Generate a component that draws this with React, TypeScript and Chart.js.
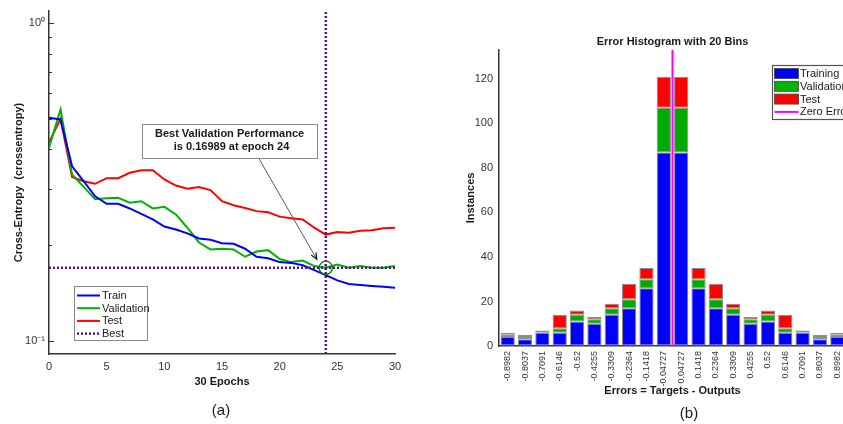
import React, { useEffect, useRef } from 'react';
import { Chart, registerables } from 'chart.js';

Chart.register(...registerables);

// ---------- (a) performance plot data ----------
const epochs = [0, 1, 2, 3, 4, 5, 6, 7, 8, 9, 10, 11, 12, 13, 14, 15, 16, 17, 18, 19, 20, 21, 22, 23, 24, 25, 26, 27, 28, 29, 30];
const trainLoss = [0.503, 0.497, 0.354, 0.318, 0.285, 0.27, 0.27, 0.261, 0.251, 0.241, 0.229, 0.224, 0.218, 0.21, 0.208, 0.203, 0.202, 0.195, 0.184, 0.182, 0.177, 0.176, 0.173, 0.167, 0.161, 0.155, 0.151, 0.15, 0.149, 0.148, 0.147];
const validationLoss = [0.405, 0.534, 0.334, 0.305, 0.279, 0.281, 0.282, 0.272, 0.275, 0.261, 0.264, 0.25, 0.227, 0.204, 0.194, 0.195, 0.194, 0.184, 0.191, 0.193, 0.181, 0.177, 0.179, 0.172, 0.16989, 0.174, 0.17, 0.172, 0.17, 0.17, 0.172];
const testLoss = [0.421, 0.499, 0.328, 0.318, 0.312, 0.325, 0.325, 0.338, 0.344, 0.344, 0.322, 0.308, 0.301, 0.305, 0.298, 0.275, 0.267, 0.262, 0.256, 0.254, 0.246, 0.243, 0.241, 0.227, 0.216, 0.22, 0.219, 0.222, 0.223, 0.226, 0.227];
const bestEpoch = 24;
const bestPerf = 0.16989;
const logTicks = [0.1, 0.2, 0.3, 0.4, 0.5, 0.6, 0.7, 0.8, 0.9, 1];
const epochTicks = [0, 5, 10, 15, 20, 25, 30];
const perfLegend = ['Train', 'Validation', 'Test', 'Best'];

// ---------- (b) error histogram data ----------
const binLabels = ['-0.8982', '-0.8037', '-0.7091', '-0.6146', '-0.52', '-0.4255', '-0.3309', '-0.2364', '-0.1418', '-0.04727', '0.04727', '0.1418', '0.2364', '0.3309', '0.4255', '0.52', '0.6146', '0.7091', '0.8037', '0.8982'];
const trainingCounts = [4, 3, 6, 6, 11, 10, 14, 17, 26, 87, 87, 26, 17, 14, 10, 11, 6, 6, 3, 4];
const validationCounts = [1, 1, 0, 2, 3, 2, 3, 4, 4, 20, 20, 4, 4, 3, 2, 3, 2, 0, 1, 1];
const testCounts = [1, 1, 1, 6, 2, 1, 2, 7, 5, 14, 14, 5, 7, 2, 1, 2, 6, 1, 1, 1];
const countTicks = [0, 20, 40, 60, 80, 100, 120];
const histLegend = ['Training', 'Validation', 'Test', 'Zero Error'];

const FONT = "'Liberation Sans', Arial, Helvetica, sans-serif";
const AXIS = '#333333';
const BLUE = '#0000ff';
const GREEN = '#00b300';
const RED = '#ff0000';
const PURPLE = '#4e1779';
const MAGENTA = '#ff00ff';

const perfDecor = {
  id: 'perfDecor',
  afterDatasetsDraw(chart: any) {
    const { ctx, chartArea: ca, scales } = chart;
    const x = scales.x;
    const y = scales.y;
    ctx.save();
    // inward y ticks
    ctx.strokeStyle = AXIS;
    ctx.lineWidth = 1;
    logTicks.forEach((v) => {
      const py = Math.round(y.getPixelForValue(v)) + 0.5;
      const len = v === 1 || v === 0.1 ? 5 : 3;
      ctx.beginPath();
      ctx.moveTo(ca.left, py);
      ctx.lineTo(ca.left + len, py);
      ctx.stroke();
    });
    // best circle
    const cx = x.getPixelForValue(bestEpoch);
    const cy = y.getPixelForValue(bestPerf);
    ctx.strokeStyle = '#0a7a0a';
    ctx.lineWidth = 1.3;
    ctx.beginPath();
    ctx.arc(cx, cy, 6.6, 0, Math.PI * 2);
    ctx.stroke();

    // annotation box
    const bx0 = x.getPixelForValue(8.07);
    const bx1 = x.getPixelForValue(23.24);
    const by0 = y.getPixelForValue(0.482);
    const by1 = y.getPixelForValue(0.377);
    // arrow
    const sx = bx0 + (bx1 - bx0) * 0.665;
    const sy = by1;
    const tx = cx - 9;
    const ty = cy - 8.5;
    ctx.strokeStyle = '#444';
    ctx.lineWidth = 0.9;
    ctx.beginPath();
    ctx.moveTo(sx, sy);
    ctx.lineTo(tx, ty);
    ctx.stroke();
    const ang = Math.atan2(ty - sy, tx - sx);
    ctx.strokeStyle = '#111';
    ctx.lineWidth = 1.2;
    ctx.beginPath();
    ctx.moveTo(tx - 7 * Math.cos(ang - 0.4), ty - 7 * Math.sin(ang - 0.4));
    ctx.lineTo(tx, ty);
    ctx.lineTo(tx - 7 * Math.cos(ang + 0.4), ty - 7 * Math.sin(ang + 0.4));
    ctx.stroke();

    ctx.fillStyle = '#ffffff';
    ctx.fillRect(bx0, by0, bx1 - bx0, by1 - by0);
    ctx.strokeStyle = '#8a8a8a';
    ctx.lineWidth = 1;
    ctx.strokeRect(Math.round(bx0) + 0.5, Math.round(by0) + 0.5, Math.round(bx1 - bx0), Math.round(by1 - by0));
    ctx.fillStyle = '#1a1a1a';
    ctx.font = `bold 11px ${FONT}`;
    ctx.textAlign = 'center';
    ctx.textBaseline = 'middle';
    const mx = (bx0 + bx1) / 2;
    ctx.fillText('Best Validation Performance', mx, by0 + 10.5);
    ctx.fillText('is 0.16989 at epoch 24', mx + 2, by0 + 23.5);

    // legend
    const lx = ca.left + 25;
    const ly = ca.top + 275;
    const lw = 73;
    const lh = 54;
    ctx.fillStyle = '#ffffff';
    ctx.fillRect(lx, ly, lw, lh);
    ctx.strokeStyle = '#8a8a8a';
    ctx.lineWidth = 1;
    ctx.strokeRect(lx + 0.5, ly + 0.5, lw, lh);
    const colors = [BLUE, GREEN, RED, PURPLE];
    ctx.font = `11px ${FONT}`;
    ctx.textAlign = 'left';
    perfLegend.forEach((name, i) => {
      const ry = ly + 9.5 + i * 12.7;
      ctx.strokeStyle = colors[i];
      ctx.lineWidth = i === 3 ? 2.5 : 2;
      ctx.setLineDash(i === 3 ? [2, 2] : []);
      ctx.beginPath();
      ctx.moveTo(lx + 3, ry);
      ctx.lineTo(lx + 26, ry);
      ctx.stroke();
      ctx.setLineDash([]);
      ctx.fillStyle = '#1a1a1a';
      ctx.fillText(name, lx + 28, ry + 0.5);
    });
    ctx.restore();
  },
};

const histDecor = {
  id: 'histDecor',
  afterDatasetsDraw(chart: any) {
    const { ctx, chartArea: ca, scales } = chart;
    const x = scales.x;
    ctx.save();
    // zero error line
    const zx = (x.getPixelForValue(9) + x.getPixelForValue(10)) / 2;
    ctx.strokeStyle = MAGENTA;
    ctx.lineWidth = 2;
    ctx.beginPath();
    ctx.moveTo(zx, ca.top);
    ctx.lineTo(zx, ca.bottom);
    ctx.stroke();
    // title
    ctx.fillStyle = '#1a1a1a';
    ctx.font = `bold 11px ${FONT}`;
    ctx.textAlign = 'center';
    ctx.textBaseline = 'middle';
    ctx.fillText('Error Histogram with 20 Bins', zx, ca.top - 8);
    // legend
    const lx = ca.left + 273;
    const ly = ca.top + 15;
    const lw = 86;
    const lh = 54;
    ctx.fillStyle = '#ffffff';
    ctx.fillRect(lx, ly, lw, lh);
    ctx.strokeStyle = '#555';
    ctx.lineWidth = 1.2;
    ctx.strokeRect(lx + 0.5, ly + 0.5, lw, lh);
    const colors = [BLUE, GREEN, RED, MAGENTA];
    ctx.font = `11px ${FONT}`;
    ctx.textAlign = 'left';
    histLegend.forEach((name, i) => {
      const ry = ly + 8.5 + i * 12.8;
      if (i < 3) {
        ctx.fillStyle = colors[i];
        ctx.fillRect(lx + 2.5, ry - 5, 24, 10);
        ctx.strokeStyle = '#444';
        ctx.lineWidth = 0.8;
        ctx.strokeRect(lx + 2.5, ry - 5, 24, 10);
      } else {
        ctx.strokeStyle = colors[i];
        ctx.lineWidth = 2;
        ctx.beginPath();
        ctx.moveTo(lx + 2.5, ry);
        ctx.lineTo(lx + 26.5, ry);
        ctx.stroke();
      }
      ctx.fillStyle = '#1a1a1a';
      ctx.fillText(name, lx + 28, ry + 0.5);
    });
    ctx.restore();
  },
};

function PerfChart() {
  const ref = useRef<HTMLCanvasElement>(null);
  useEffect(() => {
    if (!ref.current) return;
    const pts = (vals: number[]) => vals.map((v, i) => ({ x: epochs[i], y: v }));
    const chart = new Chart(ref.current, {
      type: 'line',
      data: {
        datasets: [
          { label: 'Best', data: [{ x: epochs[0], y: bestPerf }, { x: epochs[epochs.length - 1], y: bestPerf }], borderColor: PURPLE, borderWidth: 2.5, borderDash: [2, 2], pointRadius: 0 },
          { label: 'BestEpoch', data: [{ x: bestEpoch, y: 0.091 }, { x: bestEpoch, y: 1.09 }], borderColor: PURPLE, borderWidth: 2.5, borderDash: [2, 2], pointRadius: 0 },
          { label: 'Train', data: pts(trainLoss), borderColor: BLUE, borderWidth: 2, pointRadius: 0 },
          { label: 'Validation', data: pts(validationLoss), borderColor: GREEN, borderWidth: 2, pointRadius: 0 },
          { label: 'Test', data: pts(testLoss), borderColor: RED, borderWidth: 2, pointRadius: 0 },
        ],
      },
      options: {
        animation: false,
        responsive: false,
        devicePixelRatio: 1,
        layout: { padding: { left: 12, top: 11, right: 25, bottom: 35 } },
        plugins: { legend: { display: false }, tooltip: { enabled: false }, title: { display: false } },
        scales: {
          x: {
            type: 'linear',
            min: 0,
            max: 30,
            afterBuildTicks: (s: any) => { s.ticks = epochTicks.map((v) => ({ value: v })); },
            afterFit: (s: any) => { s.height = 35; },
            ticks: { font: { family: FONT, size: 11 }, color: AXIS, padding: 6, maxRotation: 0 },
            grid: { display: true, drawOnChartArea: false, drawTicks: false },
            border: { display: true, color: AXIS, width: 1.5 },
            title: { display: true, text: '30 Epochs', font: { family: FONT, size: 11, weight: 'bold' }, color: '#1a1a1a', padding: 0 },
          },
          y: {
            type: 'logarithmic',
            min: 0.091,
            max: 1.09,
            afterBuildTicks: (s: any) => { s.ticks = logTicks.map((v) => ({ value: v })); },
            afterFit: (s: any) => { s.width = 37; },
            ticks: {
              font: { family: FONT, size: 11 },
              color: AXIS,
              padding: 4,
              callback: (v: any) => (v === 1 ? '10\u2070' : v === 0.1 ? '10\u207B\u00B9' : ''),
            },
            grid: { display: true, drawOnChartArea: false, drawTicks: false },
            border: { display: true, color: AXIS, width: 1.5 },
            title: { display: true, text: 'Cross-Entropy  (crossentropy)', font: { family: FONT, size: 11, weight: 'bold' }, color: '#1a1a1a', padding: 0 },
          },
        },
      },
      plugins: [perfDecor],
    } as any);
    return () => chart.destroy();
  }, []);
  return <canvas ref={ref} width={420} height={424} style={{ position: 'absolute', left: 0, top: 0, width: 420, height: 424 }} />;
}

function HistChart() {
  const ref = useRef<HTMLCanvasElement>(null);
  useEffect(() => {
    if (!ref.current) return;
    const common = {
      borderColor: '#8c8c8c',
      borderWidth: (c: any) => (c.raw === 0 ? 0 : 1),
      borderSkipped: false,
      barPercentage: 0.82,
      categoryPercentage: 1,
    };
    const chart = new Chart(ref.current, {
      type: 'bar',
      data: {
        labels: binLabels,
        datasets: [
          { label: 'Training', data: trainingCounts, backgroundColor: BLUE, ...common },
          { label: 'Validation', data: validationCounts, backgroundColor: '#00aa00', ...common },
          { label: 'Test', data: testCounts, backgroundColor: RED, ...common },
        ],
      },
      options: {
        animation: false,
        responsive: false,
        devicePixelRatio: 1,
        layout: { padding: { left: 4, top: 50, right: 36, bottom: 26 } },
        plugins: { legend: { display: false }, tooltip: { enabled: false }, title: { display: false } },
        scales: {
          x: {
            stacked: true,
            afterFit: (s: any) => { s.height = 52; },
            ticks: { font: { family: FONT, size: 9 }, color: AXIS, padding: 5, autoSkip: false, minRotation: 90, maxRotation: 90 },
            grid: { display: true, drawOnChartArea: false, drawTicks: false },
            border: { display: true, color: AXIS, width: 1.5 },
            title: { display: true, text: 'Errors = Targets - Outputs', font: { family: FONT, size: 11, weight: 'bold' }, color: '#1a1a1a', padding: 0 },
          },
          y: {
            stacked: true,
            min: 0,
            max: 133,
            afterBuildTicks: (s: any) => { s.ticks = countTicks.map((v) => ({ value: v })); },
            afterFit: (s: any) => { s.width = 35; },
            ticks: { font: { family: FONT, size: 11 }, color: AXIS, padding: 6 },
            grid: { display: true, drawOnChartArea: false, drawTicks: false },
            border: { display: true, color: AXIS, width: 1.5 },
            title: { display: true, text: 'Instances', font: { family: FONT, size: 11, weight: 'bold' }, color: '#1a1a1a', padding: 0 },
          },
        },
      },
      plugins: [histDecor],
    } as any);
    return () => chart.destroy();
  }, []);
  return <canvas ref={ref} width={422} height={424} style={{ position: 'absolute', left: 460, top: 0, width: 422, height: 424 }} />;
}

export default function App() {
  return (
    <div style={{ position: 'absolute', left: 0, top: 0, width: 843, height: 424, overflow: 'hidden', background: '#ffffff' }}>
      <PerfChart />
      <HistChart />
      <div style={{ position: 'absolute', left: 201, top: 401, width: 40, textAlign: 'center', font: `15px ${FONT}`, color: '#1a1a1a' }}>(a)</div>
      <div style={{ position: 'absolute', left: 669, top: 404, width: 40, textAlign: 'center', font: `15px ${FONT}`, color: '#1a1a1a' }}>(b)</div>
    </div>
  );
}
